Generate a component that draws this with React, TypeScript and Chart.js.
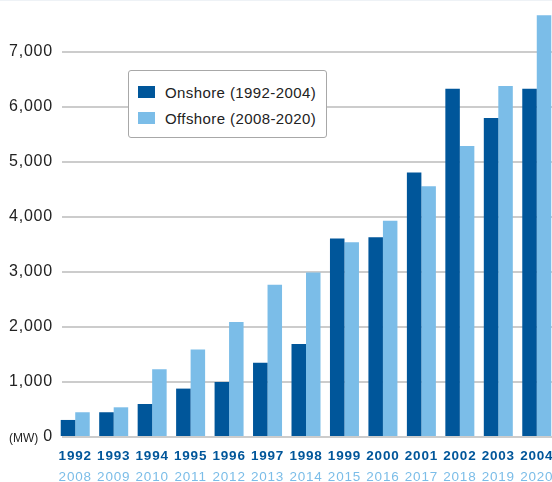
import React, { useEffect, useRef } from 'react';
import { Chart, registerables } from 'chart.js';

Chart.register(...registerables);

const onshoreYears = ['1992', '1993', '1994', '1995', '1996', '1997', '1998', '1999', '2000', '2001', '2002', '2003', '2004'];
const offshoreYears = ['2008', '2009', '2010', '2011', '2012', '2013', '2014', '2015', '2016', '2017', '2018', '2019', '2020'];
const onshoreMW = [310, 450, 600, 880, 1000, 1350, 1690, 3610, 3630, 4810, 6330, 5800, 6330];
const offshoreMW = [450, 540, 1230, 1590, 2090, 2770, 2990, 3540, 3930, 4560, 5290, 6380, 7670];
const yTickValues = [0, 1000, 2000, 3000, 4000, 5000, 6000, 7000];
const seriesNames = ['Onshore (1992-2004)', 'Offshore (2008-2020)'];
const unitLabel = '(MW)';

const DARK = '#00569a';
const LIGHT = '#7bbde8';
const FONT = '"Liberation Sans", Arial, sans-serif';

export default function App() {
  const canvasRef = useRef<HTMLCanvasElement | null>(null);

  useEffect(() => {
    const canvas = canvasRef.current;
    if (!canvas) return;

    const spacingPlugin = {
      id: 'spacing',
      beforeDraw(chart: any) {
        chart.ctx.letterSpacing = '0.8px';
      },
      beforeDatasetsDraw(chart: any) {
        const { ctx, chartArea } = chart;
        ctx.save();
        ctx.fillStyle = '#ffffff';
        ctx.fillRect(chartArea.left - 1, chartArea.top - 2, 7, chartArea.bottom - chartArea.top + 4);
        ctx.restore();
      },
      afterDraw(chart: any) {
        const { ctx } = chart;
        const y0 = chart.scales.y.getPixelForValue(0);
        ctx.save();
        ctx.letterSpacing = '0px';
        ctx.font = `12px ${FONT}`;
        ctx.fillStyle = '#222222';
        ctx.textAlign = 'left';
        ctx.textBaseline = 'middle';
        ctx.fillText(unitLabel, 9, y0 + 1.5);
        ctx.restore();
      },
    };

    const noPad = (s: any) => {
      s.paddingLeft = 0;
      s.paddingRight = 0;
      s.paddingTop = 0;
      s.paddingBottom = 0;
    };

    const chart = new Chart(canvas, {
      type: 'bar',
      data: {
        labels: onshoreYears,
        datasets: [
          { label: seriesNames[0], data: onshoreMW, backgroundColor: DARK, borderWidth: 0 },
          { label: seriesNames[1], data: offshoreMW, backgroundColor: LIGHT, borderWidth: 0 },
        ],
      },
      options: {
        responsive: false,
        animation: false,
        devicePixelRatio: 1,
        layout: { padding: { top: 8, right: 0, bottom: 5, left: 0 } },
        plugins: { legend: { display: false }, tooltip: { enabled: false } },
        datasets: { bar: { categoryPercentage: 0.754, barPercentage: 1 } },
        scales: {
          x: {
            type: 'category',
            position: 'bottom',
            weight: 0,
            offset: true,
            afterFit: (s: any) => {
              noPad(s);
              s.height = 27;
            },
            grid: { display: false, drawTicks: false },
            border: { display: false },
            ticks: {
              color: DARK,
              font: { family: FONT, size: 13.5, weight: 'bold' },
              padding: 11,
              maxRotation: 0,
              autoSkip: false,
            },
          },
          x2: {
            type: 'category',
            labels: offshoreYears,
            position: 'bottom',
            weight: 1,
            offset: true,
            afterFit: (s: any) => {
              noPad(s);
              s.height = 21;
            },
            grid: { display: false, drawTicks: false },
            border: { display: false },
            ticks: {
              color: LIGHT,
              font: { family: FONT, size: 13.5 },
              padding: 5,
              maxRotation: 0,
              autoSkip: false,
            },
          },
          y: {
            min: 0,
            max: 7800,
            afterBuildTicks: (s: any) => {
              s.ticks = yTickValues.map((v) => ({ value: v }));
            },
            afterFit: (s: any) => {
              noPad(s);
              s.width = 56;
            },
            grid: { color: '#cccccc', lineWidth: 2, drawTicks: false },
            border: { display: false },
            ticks: {
              padding: 3,
              color: '#222222',
              font: { family: FONT, size: 16 },
              callback: (v: any) => Number(v).toLocaleString('en-US'),
            },
          },
        },
      } as any,
      plugins: [spacingPlugin],
    });

    return () => chart.destroy();
  }, []);

  const colors = [DARK, LIGHT];

  return (
    <div
      style={{
        position: 'fixed',
        left: 0,
        top: 0,
        width: 552,
        height: 482,
        overflow: 'hidden',
        background: '#ffffff',
      }}
    >
      <canvas ref={canvasRef} width={556} height={490} style={{ position: 'absolute', left: 0, top: 0 }} />
      <div style={{ position: 'absolute', left: 0, top: 0, width: 552, height: 1, background: '#eef2f6' }} />
      <div
        style={{
          position: 'absolute',
          left: 128,
          top: 70,
          width: 188,
          height: 52,
          padding: '8px 0 6px 9px',
          boxSizing: 'content-box',
          border: '1px solid #a8a8a8',
          borderRadius: 3,
          background: '#ffffff',
          fontFamily: FONT,
          fontSize: 15,
          color: '#222222',
          letterSpacing: '0.4px',
        }}
      >
        {seriesNames.map((name, i) => (
          <div key={name} style={{ display: 'flex', alignItems: 'center', height: 26 }}>
            <span style={{ display: 'inline-block', width: 17, height: 12, background: colors[i], marginRight: 10 }} />
            <span style={{ whiteSpace: 'nowrap' }}>{name}</span>
          </div>
        ))}
      </div>
    </div>
  );
}
